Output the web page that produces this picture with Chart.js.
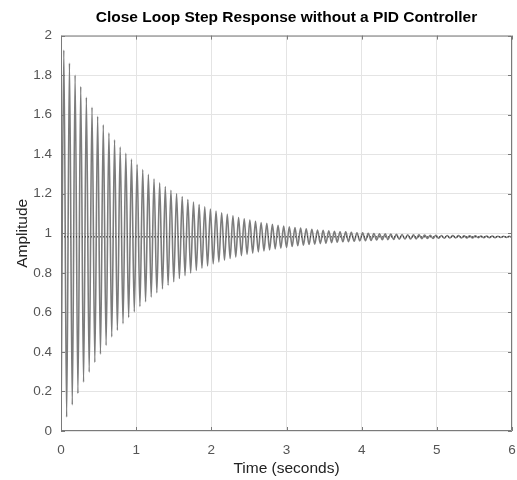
<!DOCTYPE html>
<html lang="en">
  <head>
    <meta charset="UTF-8" />
    <title>Close Loop Step Response</title>
    <script src="https://cdn.jsdelivr.net/npm/chart.js"></script>
    <style>
      html, body { margin: 0; padding: 0; background: #fff; }
      #wrap { width: 517px; height: 480px; }
    </style>
  </head>
  <body>
    <div id="wrap"><canvas id="step"></canvas></div>

    <script>
      // sample times (s): one entry per half period of the oscillation
      const time = [
        0, 0.0375, 0.075, 0.1125, 0.15, 0.1875, 0.225, 0.2625,
        0.3, 0.3375, 0.375, 0.4125, 0.45, 0.4875, 0.525, 0.5625,
        0.6, 0.6375, 0.675, 0.7125, 0.75, 0.7875, 0.825, 0.8625,
        0.9, 0.9375, 0.975, 1.0125, 1.05, 1.0875, 1.125, 1.1625,
        1.2, 1.2375, 1.275, 1.3125, 1.35, 1.3875, 1.425, 1.4625,
        1.5, 1.5375, 1.575, 1.6125, 1.65, 1.6875, 1.725, 1.7625,
        1.8, 1.8375, 1.875, 1.9125, 1.95, 1.9875, 2.025, 2.0625,
        2.1, 2.1375, 2.175, 2.2125, 2.25, 2.2875, 2.325, 2.3625,
        2.4, 2.4375, 2.475, 2.5125, 2.55, 2.5875, 2.625, 2.6625,
        2.7, 2.7375, 2.775, 2.8125, 2.85, 2.8875, 2.925, 2.9625,
        3.0, 3.0375, 3.075, 3.1125, 3.15, 3.1875, 3.225, 3.2625,
        3.3, 3.3375, 3.375, 3.4125, 3.45, 3.4875, 3.525, 3.5625,
        3.6, 3.6375, 3.675, 3.7125, 3.75, 3.7875, 3.825, 3.8625,
        3.9, 3.9375, 3.975, 4.0125, 4.05, 4.0875, 4.125, 4.1625,
        4.2, 4.2375, 4.275, 4.3125, 4.35, 4.3875, 4.425, 4.4625,
        4.5, 4.5375, 4.575, 4.6125, 4.65, 4.6875, 4.725, 4.7625,
        4.8, 4.8375, 4.875, 4.9125, 4.95, 4.9875, 5.025, 5.0625,
        5.1, 5.1375, 5.175, 5.2125, 5.25, 5.2875, 5.325, 5.3625,
        5.4, 5.4375, 5.475, 5.5125, 5.55, 5.5875, 5.625, 5.6625,
        5.7, 5.7375, 5.775, 5.8125, 5.85, 5.8875, 5.925, 5.9625,
        6.0
      ];

      // amplitude at each sample (alternating peaks and troughs)
      const amplitude = [
        0, 1.927, 0.070, 1.861, 0.132, 1.801, 0.190, 1.742,
        0.247, 1.688, 0.298, 1.637, 0.347, 1.592, 0.389, 1.549,
        0.433, 1.508, 0.476, 1.473, 0.509, 1.436, 0.543, 1.405,
        0.574, 1.375, 0.603, 1.348, 0.630, 1.322, 0.654, 1.298,
        0.677, 1.276, 0.699, 1.255, 0.719, 1.236, 0.737, 1.218,
        0.755, 1.201, 0.771, 1.186, 0.786, 1.171, 0.799, 1.158,
        0.812, 1.146, 0.824, 1.134, 0.835, 1.123, 0.846, 1.113,
        0.855, 1.104, 0.864, 1.096, 0.873, 1.088, 0.880, 1.080,
        0.887, 1.073, 0.894, 1.067, 0.900, 1.061, 0.906, 1.055,
        0.911, 1.050, 0.916, 1.045, 0.921, 1.041, 0.925, 1.037,
        0.929, 1.033, 0.933, 1.029, 0.937, 1.026, 0.940, 1.023,
        0.943, 1.020, 0.945, 1.017, 0.948, 1.015, 0.950, 1.013,
        0.953, 1.010, 0.955, 1.008, 0.957, 1.007, 0.958, 1.005,
        0.960, 1.003, 0.962, 1.002, 0.963, 1.000, 0.964, 0.999,
        0.966, 0.998, 0.967, 0.997, 0.968, 0.996, 0.969, 0.995,
        0.970, 0.994, 0.971, 0.993, 0.971, 0.992, 0.972, 0.992,
        0.973, 0.991, 0.974, 0.990, 0.974, 0.990, 0.975, 0.989,
        0.975, 0.989, 0.976, 0.988, 0.976, 0.988, 0.976, 0.987,
        0.977, 0.987, 0.977, 0.987, 0.978, 0.986, 0.978, 0.986,
        0.978, 0.986, 0.978, 0.985, 0.979, 0.985, 0.979, 0.985,
        0.979
      ];

      // steady-state level (dotted line)
      const steadyTime = [0, 6];
      const steadyValue = [0.982, 0.982];

      const xTicks = [0, 1, 2, 3, 4, 5, 6];
      const yTicks = [0, 0.2, 0.4, 0.6, 0.8, 1, 1.2, 1.4, 1.6, 1.8, 2];

      const FONT = "'Liberation Sans', Arial, sans-serif";

      // box round the axes and inward tick marks, MATLAB style
      const boxPlugin = {
        id: "box",
        afterDraw(chart) {
          const { ctx, chartArea: a, scales } = chart;
          ctx.save();
          ctx.strokeStyle = "#7a7a7a";
          ctx.lineWidth = 1;
          ctx.beginPath();
          ctx.rect(a.left + 0.5, a.top + 0.5, a.right - a.left - 1, a.bottom - a.top - 1);
          xTicks.forEach((t) => {
            const px = Math.round(scales.x.getPixelForValue(t)) + 0.5;
            ctx.moveTo(px, a.bottom);
            ctx.lineTo(px, a.bottom - 4);
            ctx.moveTo(px, a.top);
            ctx.lineTo(px, a.top + 4);
          });
          yTicks.forEach((t) => {
            const py = Math.round(scales.y.getPixelForValue(t)) + 0.5;
            ctx.moveTo(a.left, py);
            ctx.lineTo(a.left + 4, py);
            ctx.moveTo(a.right, py);
            ctx.lineTo(a.right - 4, py);
          });
          ctx.stroke();
          ctx.restore();
        },
      };

      new Chart(document.getElementById("step"), {
        type: "line",
        data: {
          datasets: [
            {
              label: "Steady state",
              data: steadyTime.map((t, i) => ({ x: t, y: steadyValue[i] })),
              borderColor: "#222",
              borderWidth: 1,
              borderDash: [1, 2],
              pointRadius: 0,
              fill: false,
            },
            {
              label: "Step response",
              data: time.map((t, i) => ({ x: t, y: amplitude[i] })),
              borderColor: "#7c7c7c",
              borderWidth: 1.6,
              pointRadius: 0,
              cubicInterpolationMode: "monotone",
              fill: false,
            },
          ],
        },
        options: {
          responsive: true,
          maintainAspectRatio: false,
          animation: false,
          layout: { padding: { left: 0, right: 5, top: 0, bottom: 0 } },
          plugins: {
            legend: { display: false },
            tooltip: { enabled: false },
            title: {
              display: true,
              text: "Close Loop Step Response without a PID Controller",
              color: "#000",
              fullSize: false,
              font: { family: FONT, size: 15.5, weight: "bold" },
              padding: { top: 8, bottom: 9 },
            },
          },
          scales: {
            x: {
              type: "linear",
              min: 0,
              max: 6,
              afterFit: (s) => { s.height = 49; s.paddingLeft = 0; s.paddingRight = 0; },
              afterBuildTicks: (s) => { s.ticks = xTicks.map((v) => ({ value: v })); },
              grid: { color: "#e4e4e4", drawTicks: false },
              border: { display: false },
              ticks: { color: "#555", padding: 11, font: { family: FONT, size: 13.5 } },
              title: {
                display: true,
                text: "Time (seconds)",
                color: "#222",
                font: { family: FONT, size: 15.5 },
                padding: { top: 0, bottom: 2 },
              },
            },
            y: {
              min: 0,
              max: 2,
              afterFit: (s) => { s.width = 61; s.paddingTop = 0; s.paddingBottom = 0; },
              afterBuildTicks: (s) => { s.ticks = yTicks.map((v) => ({ value: v })); },
              grid: { color: "#e4e4e4", drawTicks: false },
              border: { display: false },
              ticks: {
                color: "#555",
                padding: 9,
                font: { family: FONT, size: 13.5 },
                callback: (v) => String(Number(v.toFixed(1))),
              },
              title: {
                display: true,
                text: "Amplitude",
                color: "#222",
                font: { family: FONT, size: 15.5 },
                padding: { top: 13, bottom: 0 },
              },
            },
          },
        },
        plugins: [boxPlugin],
      });
    </script>
  </body>
</html>
